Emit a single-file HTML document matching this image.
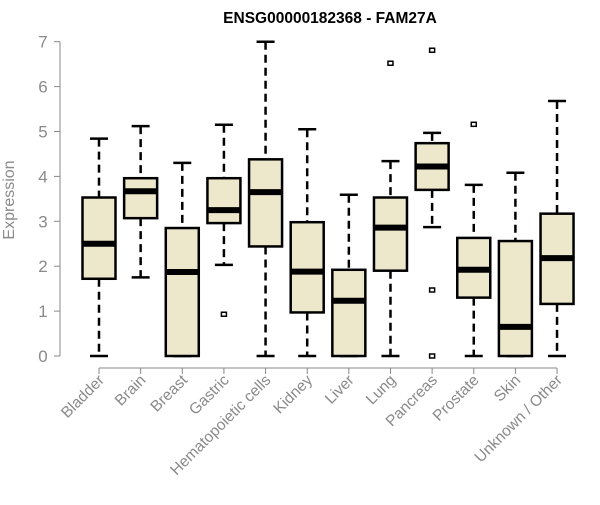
<!DOCTYPE html>
<html><head><meta charset="utf-8"><style>
body{margin:0;background:#fff}
svg text{font-family:"Liberation Sans",Arial,sans-serif}
</style></head><body>
<svg id="chart" width="600" height="500">
<text x="330" y="23" text-anchor="middle" font-weight="bold" font-size="15.5">ENSG00000182368 - FAM27A</text>
<text transform="translate(14,200) rotate(-90)" text-anchor="middle" font-size="16" fill="#8a8a8a">Expression</text>
<g id="yaxis"></g>
<g id="xaxis"></g>
<g id="boxes"></g>
</svg>
<script>
const categories=["Bladder","Brain","Breast","Gastric","Hematopoietic cells","Kidney","Liver","Lung","Pancreas","Prostate","Skin","Unknown / Other"];
const whiskerLow=[0,1.75,0,2.03,0,0,0,0,2.87,0,0,0];
const q1=[1.72,3.07,0,2.96,2.44,0.97,0,1.9,3.7,1.3,0,1.16];
const medians=[2.5,3.67,1.87,3.25,3.65,1.88,1.23,2.86,4.22,1.92,0.65,2.18];
const q3=[3.53,3.96,2.85,3.96,4.38,2.98,1.92,3.53,4.74,2.63,2.56,3.17];
const whiskerHigh=[4.84,5.12,4.3,5.15,7,5.05,3.59,4.34,4.97,3.81,4.08,5.68];
const outliers=[[],[],[],[0.93],[],[],[],[6.52],[6.81,1.47,0],[5.16],[],[]];
const yTicks=[0,1,2,3,4,5,6,7];
const NS="http://www.w3.org/2000/svg";
const y=v=>356-v*44.9;
const x=i=>99+i*41.64;
function mk(p,t,a){const e=document.createElementNS(NS,t);for(const k in a)e.setAttribute(k,a[k]);p.appendChild(e);return e;}
const ya=document.getElementById('yaxis'),xa=document.getElementById('xaxis'),bx=document.getElementById('boxes');
mk(ya,'line',{x1:60,x2:60,y1:y(0),y2:y(7),stroke:'#888'});
yTicks.forEach(t=>{
 mk(ya,'line',{x1:54,x2:60,y1:y(t),y2:y(t),stroke:'#888'});
 const tx=mk(ya,'text',{x:43,y:y(t)+6,'text-anchor':'middle','font-size':17,fill:'#8a8a8a'});tx.textContent=t;
 
 
});
mk(xa,'line',{x1:x(0),x2:x(categories.length-1),y1:368,y2:368,stroke:'#888'});
categories.forEach((c,i)=>{
 mk(xa,'line',{x1:x(i),x2:x(i),y1:368,y2:374,stroke:'#888'});
 const tx=mk(xa,'text',{transform:`translate(${x(i)+6},381) rotate(-45)`,'text-anchor':'end','font-size':15.5,fill:'#8a8a8a'});tx.textContent=c;
 
 
 const g=mk(bx,'g',{});
 
 
 const cx=x(i),w=16.5;
 mk(g,'line',{x1:cx,x2:cx,y1:y(whiskerHigh[i]),y2:y(q3[i]),stroke:'#000','stroke-width':2.5,'stroke-dasharray':'8,5'});
 mk(g,'line',{x1:cx,x2:cx,y1:y(q1[i]),y2:y(whiskerLow[i]),stroke:'#000','stroke-width':2.5,'stroke-dasharray':'8,5'});
 mk(g,'line',{x1:cx-9,x2:cx+9,y1:y(whiskerHigh[i]),y2:y(whiskerHigh[i]),stroke:'#000','stroke-width':2.5});
 mk(g,'line',{x1:cx-9,x2:cx+9,y1:y(whiskerLow[i]),y2:y(whiskerLow[i]),stroke:'#000','stroke-width':2.5});
 mk(g,'rect',{x:cx-w,y:y(q3[i]),width:2*w,height:y(q1[i])-y(q3[i]),fill:'#ede8cc',stroke:'#000','stroke-width':2.5});
 mk(g,'line',{x1:cx-w,x2:cx+w,y1:y(medians[i]),y2:y(medians[i]),stroke:'#000','stroke-width':6});
 outliers[i].forEach(o=>{mk(g,'rect',{x:cx-2.5,y:y(o)-2,width:5,height:4,fill:'none',stroke:'#000','stroke-width':1.5});});
});
</script>
</body></html>
